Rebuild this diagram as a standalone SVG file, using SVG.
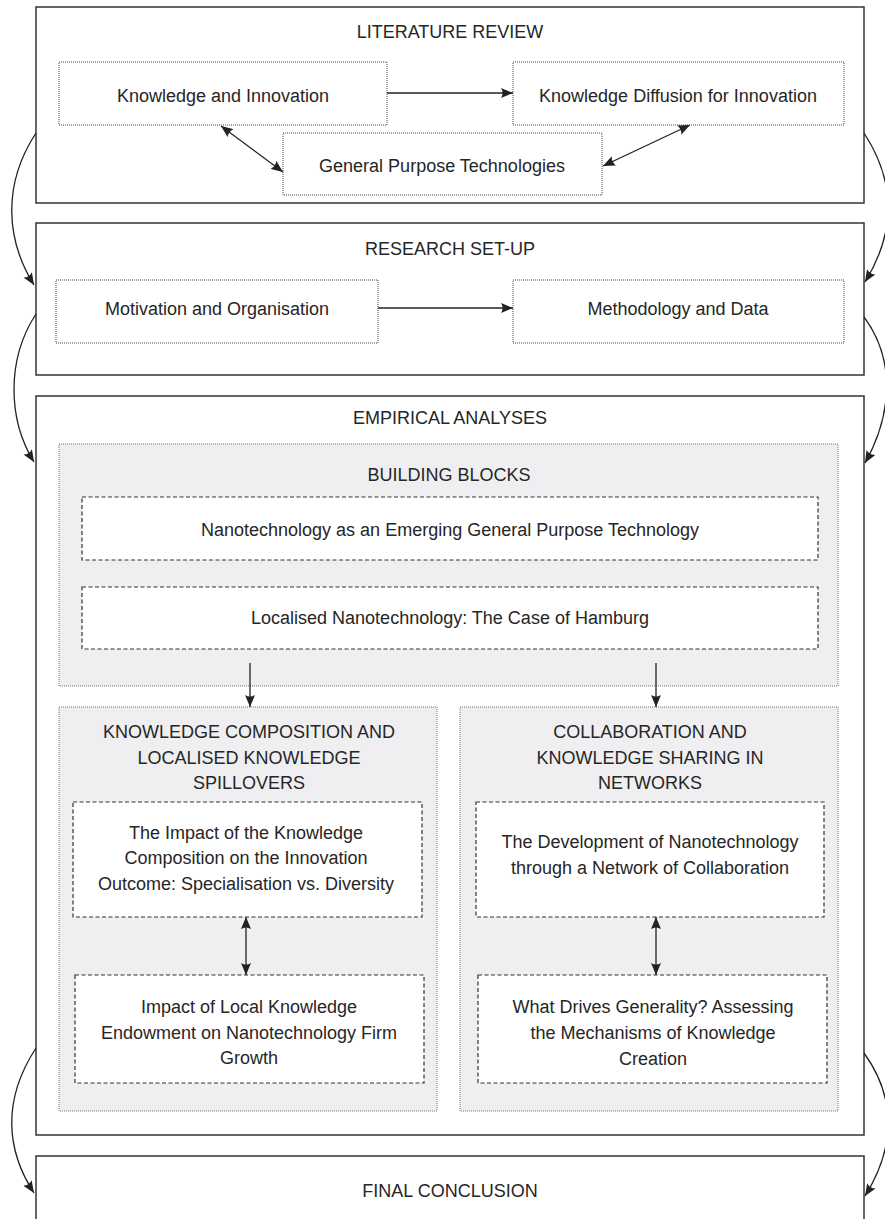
<svg xmlns="http://www.w3.org/2000/svg" width="885" height="1219" viewBox="0 0 885 1219">
  <style>
    text { font-family: "Liberation Sans", Arial, sans-serif; font-size: 18px; fill: #262626; text-anchor: middle; }
    .section { fill: #fff; stroke: #333; stroke-width: 1.5; }
    .dotted { fill: #fff; stroke: #444; stroke-width: 1; stroke-dasharray: 1 1; }
    .panel { fill: #efeff1; stroke: #777; stroke-width: 1; stroke-dasharray: 1 1; }
    .dashed { fill: #fff; stroke: #333; stroke-width: 1.2; stroke-dasharray: 4 2.5; }
    .conn { fill: none; stroke: #222; stroke-width: 1.3; }
  </style>
  <defs>
    <!-- filled arrowhead with a slightly concave back, used at both ends -->
    <marker id="arrow" viewBox="0 0 12 10" refX="12" refY="5" markerWidth="12" markerHeight="10" markerUnits="userSpaceOnUse" orient="auto-start-reverse">
      <path d="M0,0 L12,5 L0,10 Q3,5 0,0 z" fill="#222"/>
    </marker>
  </defs>
  <rect width="885" height="1219" fill="#fff"/>

  <!-- Literature review -->
  <g id="literature-review">
    <rect class="section" x="36" y="7" width="828" height="196"/>
    <text x="450" y="38">LITERATURE REVIEW</text>
  </g>
  <g id="knowledge-innovation">
    <rect class="dotted" x="59" y="62" width="328" height="63"/>
    <text x="223" y="102">Knowledge and Innovation</text>
  </g>
  <g id="knowledge-diffusion">
    <rect class="dotted" x="513" y="62" width="331" height="63"/>
    <text x="678" y="102">Knowledge Diffusion for Innovation</text>
  </g>
  <g id="gpt">
    <rect class="dotted" x="283" y="133" width="319" height="62"/>
    <text x="442" y="172">General Purpose Technologies</text>
  </g>

  <!-- Research set-up -->
  <g id="research-setup">
    <rect class="section" x="36" y="223" width="828" height="152"/>
    <text x="450" y="255">RESEARCH SET-UP</text>
  </g>
  <g id="motivation">
    <rect class="dotted" x="56" y="280" width="322" height="63"/>
    <text x="217" y="315">Motivation and Organisation</text>
  </g>
  <g id="methodology">
    <rect class="dotted" x="513" y="280" width="331" height="63"/>
    <text x="678" y="315">Methodology and Data</text>
  </g>

  <!-- Empirical analyses -->
  <g id="empirical-analyses">
    <rect class="section" x="36" y="396" width="828" height="739"/>
    <text x="450" y="424">EMPIRICAL ANALYSES</text>
  </g>
  <g id="building-blocks">
    <rect class="panel" x="59" y="444" width="779" height="242"/>
    <text x="449" y="481">BUILDING BLOCKS</text>
  </g>
  <g id="nano-gpt">
    <rect class="dashed" x="82" y="497" width="736" height="63"/>
    <text x="450" y="536">Nanotechnology as an Emerging General Purpose Technology</text>
  </g>
  <g id="hamburg">
    <rect class="dashed" x="82" y="587" width="736" height="62"/>
    <text x="450" y="624">Localised Nanotechnology: The Case of Hamburg</text>
  </g>

  <g id="knowledge-composition">
    <rect class="panel" x="59" y="707" width="378" height="404"/>
    <text x="249" y="738">KNOWLEDGE COMPOSITION AND</text>
    <text x="249" y="764">LOCALISED KNOWLEDGE</text>
    <text x="249" y="789">SPILLOVERS</text>
  </g>
  <g id="collaboration">
    <rect class="panel" x="460" y="707" width="378" height="404"/>
    <text x="650" y="738">COLLABORATION AND</text>
    <text x="650" y="764">KNOWLEDGE SHARING IN</text>
    <text x="650" y="789">NETWORKS</text>
  </g>
  <g id="specialisation-diversity">
    <rect class="dashed" x="73" y="802" width="349" height="115"/>
    <text x="246" y="839">The Impact of the Knowledge</text>
    <text x="246" y="864">Composition on the Innovation</text>
    <text x="246" y="890">Outcome: Specialisation vs. Diversity</text>
  </g>
  <g id="network-development">
    <rect class="dashed" x="476" y="802" width="348" height="115"/>
    <text x="650" y="848">The Development of Nanotechnology</text>
    <text x="650" y="874">through a Network of Collaboration</text>
  </g>
  <g id="firm-growth">
    <rect class="dashed" x="75" y="975" width="349" height="108"/>
    <text x="249" y="1013">Impact of Local Knowledge</text>
    <text x="249" y="1039">Endowment on Nanotechnology Firm</text>
    <text x="249" y="1064">Growth</text>
  </g>
  <g id="generality">
    <rect class="dashed" x="478" y="975" width="349" height="108"/>
    <text x="653" y="1013">What Drives Generality? Assessing</text>
    <text x="653" y="1039">the Mechanisms of Knowledge</text>
    <text x="653" y="1065">Creation</text>
  </g>

  <!-- Final conclusion (continues past the bottom edge) -->
  <g id="final-conclusion">
    <rect class="section" x="36" y="1156" width="828" height="80"/>
    <text x="450" y="1197">FINAL CONCLUSION</text>
  </g>

  <!-- Connectors -->
  <g id="connectors">
    <line class="conn" x1="387" y1="93" x2="513" y2="93" marker-end="url(#arrow)"/>
    <line class="conn" x1="221" y1="126" x2="283" y2="172" marker-start="url(#arrow)" marker-end="url(#arrow)"/>
    <line class="conn" x1="690" y1="125" x2="603" y2="166" marker-start="url(#arrow)" marker-end="url(#arrow)"/>
    <line class="conn" x1="378" y1="308" x2="513" y2="308" marker-end="url(#arrow)"/>
    <line class="conn" x1="250" y1="663" x2="250" y2="707" marker-end="url(#arrow)"/>
    <line class="conn" x1="656" y1="663" x2="656" y2="707" marker-end="url(#arrow)"/>
    <line class="conn" x1="246" y1="917" x2="246" y2="975" marker-start="url(#arrow)" marker-end="url(#arrow)"/>
    <line class="conn" x1="656" y1="917" x2="656" y2="975" marker-start="url(#arrow)" marker-end="url(#arrow)"/>
    <path class="conn" d="M36,133 C2,185 6,240 34,285" marker-end="url(#arrow)"/>
    <path class="conn" d="M864,133 C898,185 894,235 865,282" marker-end="url(#arrow)"/>
    <path class="conn" d="M36,314 C6,360 8,420 34,462" marker-end="url(#arrow)"/>
    <path class="conn" d="M864,317 C896,360 892,415 865,463" marker-end="url(#arrow)"/>
    <path class="conn" d="M36,1048 C2,1100 6,1150 34,1193" marker-end="url(#arrow)"/>
    <path class="conn" d="M864,1053 C898,1100 894,1150 865,1196" marker-end="url(#arrow)"/>
  </g>
</svg>
